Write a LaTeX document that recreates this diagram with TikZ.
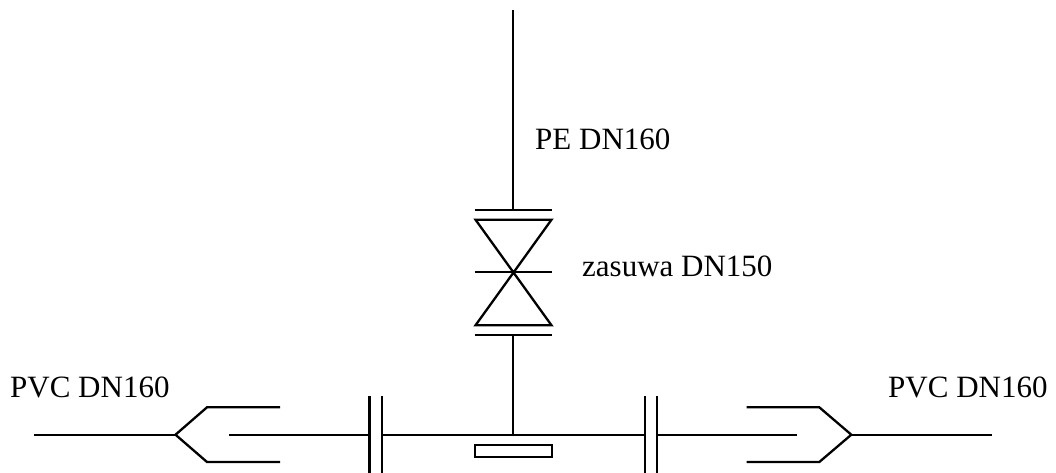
\documentclass[tikz,border=0pt]{standalone}
\usepackage{fontspec}
\setmainfont{Liberation Serif}
\tikzset{
  pipe/.style={line width=2.3pt,line cap=butt,line join=miter},
  label31/.style={inner sep=0pt,anchor=base west,font=\fontsize{31}{36}\selectfont},
  plate/.style={draw,line width=1.7pt,inner sep=0pt,minimum width=77pt,minimum height=12pt}
}
\begin{document}
\begin{tikzpicture}[x=1pt,y=-1pt]
\useasboundingbox (0,0) rectangle (1056,473);
% centre vertical
\coordinate (top) at (513.3,10);
\coordinate (flT) at (513.3,210.3);
\coordinate (flTl) at (474.7,210.3);
\coordinate (flTr) at (552.3,210.3);
\coordinate (triTl) at (475.5,219.7);
\coordinate (triTr) at (551.5,219.7);
\coordinate (mid) at (513.3,272.3);
\coordinate (midl) at (474.7,272.3);
\coordinate (midr) at (552.3,272.3);
\coordinate (triBl) at (475.5,325.3);
\coordinate (triBr) at (551.5,325.3);
\coordinate (flBl) at (474.7,334.7);
\coordinate (flBr) at (552.3,334.7);
\coordinate (flB) at (513.3,334.7);
\coordinate (tee) at (513.3,434.7);
% left
\coordinate (Ls) at (34,434.7);
\coordinate (La) at (175.5,434.7);
\coordinate (Lu) at (207,407.3);
\coordinate (Lue) at (280,407.3);
\coordinate (Ld) at (207,462);
\coordinate (Lde) at (280,462);
\coordinate (Li) at (229,434.7);
\coordinate (F1at) at (369.5,396);
\coordinate (F1ab) at (369.5,473);
\coordinate (F1bt) at (381.7,396);
\coordinate (F1bb) at (381.7,473);
\coordinate (F1a) at (369.5,434.7);
\coordinate (F1b) at (381.7,434.7);
% right
\coordinate (Rs) at (992.3,434.7);
\coordinate (Ra) at (851.3,434.7);
\coordinate (Ru) at (819.3,407.3);
\coordinate (Rue) at (746.7,407.3);
\coordinate (Rd) at (819.3,462);
\coordinate (Rde) at (746.7,462);
\coordinate (Ri) at (797,434.7);
\coordinate (F2at) at (644.7,396);
\coordinate (F2ab) at (644.7,473);
\coordinate (F2bt) at (657.3,396);
\coordinate (F2bb) at (657.3,473);
\coordinate (F2a) at (644.7,434.7);
\coordinate (F2b) at (657.3,434.7);

\draw[pipe] (top) -- (flT);
\draw[pipe] (flTl) -- (flTr);
\draw[pipe] (triTl) -- (triTr) -- (triBl) -- (triBr) -- (triTl) -- cycle;
\draw[pipe] (midl) -- (midr);
\draw[pipe] (flBl) -- (flBr);
\draw[pipe] (flB) -- (tee);

\draw[pipe] (Ls) -- (La);
\draw[pipe] (Lue) -- (Lu) -- (La) -- (Ld) -- (Lde);
\draw[pipe] (Li) -- (F1a);
\draw[pipe] (F1at) -- (F1ab);
\draw[pipe] (F1bt) -- (F1bb);
\draw[pipe] (F1b) -- (F2a);
\draw[pipe] (F2at) -- (F2ab);
\draw[pipe] (F2bt) -- (F2bb);
\draw[pipe] (F2b) -- (Ri);
\draw[pipe] (Rue) -- (Ru) -- (Ra) -- (Rd) -- (Rde);
\draw[pipe] (Ra) -- (Rs);

\node[plate] (plate) at (513.3,450.8) {};
\node[label31] (pe) at (535,149.5) {PE DN160};
\node[label31] (zas) at (582,276.7) {zasuwa DN150};
\node[label31] (pvcl) at (10,397.3) {PVC DN160};
\node[label31] (pvcr) at (888,397.3) {PVC DN160};
\end{tikzpicture}
\end{document}
